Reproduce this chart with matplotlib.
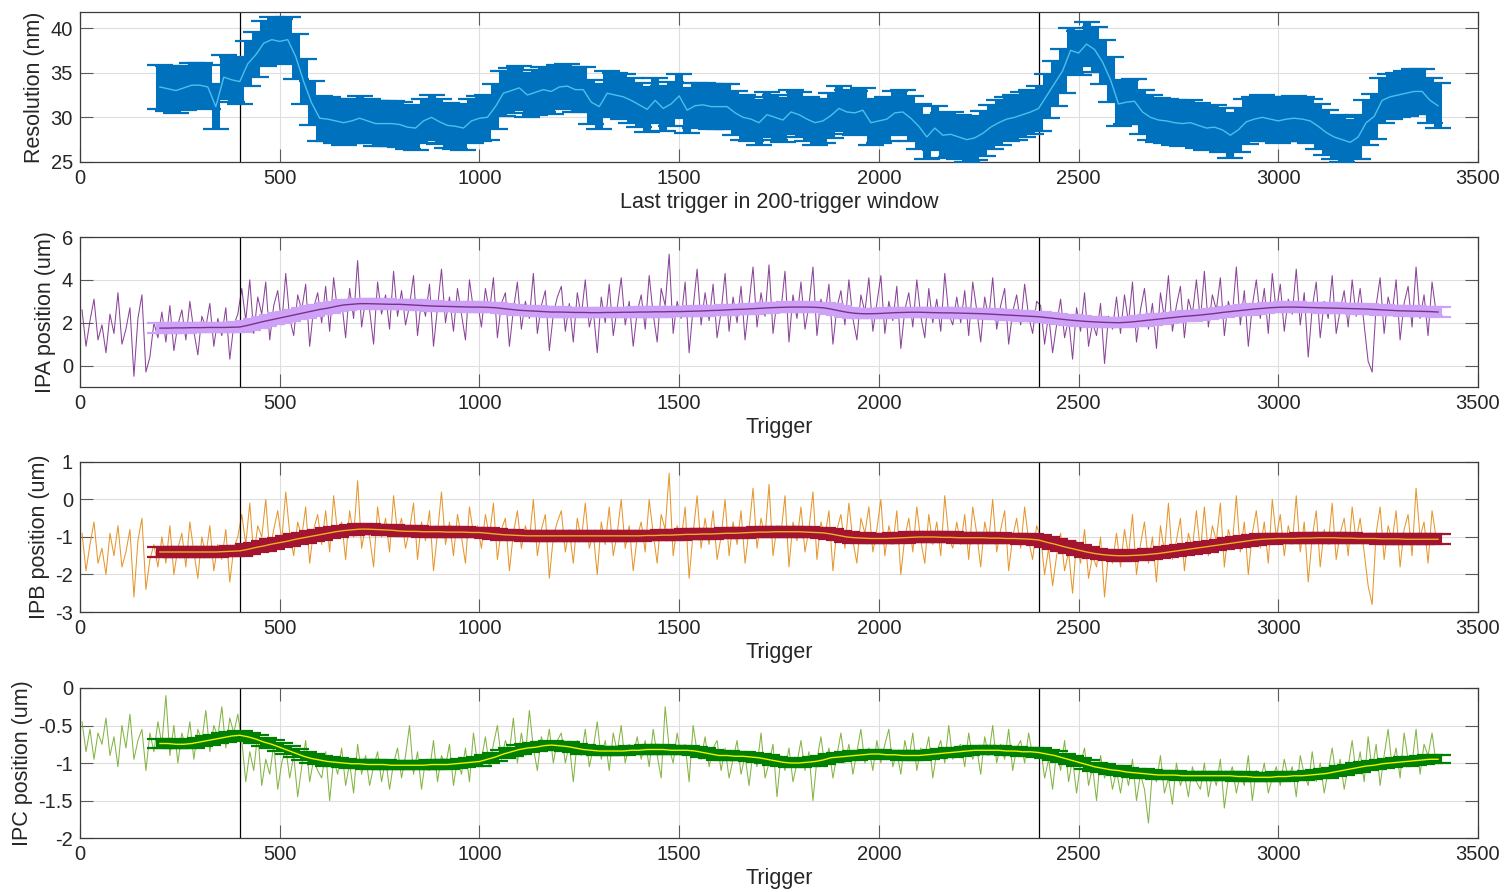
import numpy as np
import matplotlib
matplotlib.use("Agg")
import matplotlib.pyplot as plt

plt.rcParams['font.family'] = ['Liberation Sans', 'DejaVu Sans']

# ---- data ----
# moving-window x positions (last trigger of each 200-trigger window, every 20th)
WIN_START, WIN_STEP = 200, 20
# raw samples shown every 10th trigger
RAW_START, RAW_STEP = 5, 10

RES_MEAN = [
    33.4, 33.2, 33.0, 33.3, 33.6, 33.6, 33.4, 31.2, 34.5, 34.2, 34.0,
    36.0, 37.0, 38.3, 38.7, 38.5, 38.7, 36.8, 34.0, 31.6, 29.9,
    29.8, 29.6, 29.4, 29.6, 29.9, 29.6, 29.3, 29.3, 29.3, 29.2,
    28.9, 28.8, 29.6, 30.0, 29.5, 29.1, 29.0, 28.8, 29.6, 29.9,
    30.0, 31.2, 32.7, 33.0, 33.3, 32.5, 32.8, 33.1, 32.9, 33.4,
    33.5, 33.1, 33.1, 31.7, 31.2, 32.7, 32.5, 32.3, 31.9, 31.4,
    30.9, 31.9, 31.0, 31.5, 32.4, 30.8, 31.3, 31.4, 31.2, 31.2,
    31.2, 30.5, 30.0, 29.8, 29.4, 30.3, 30.0, 29.7, 30.6, 30.3,
    29.8, 29.4, 29.6, 30.2, 31.0, 30.6, 30.5, 30.8, 29.4, 29.6,
    29.8, 30.5, 30.6, 29.9, 29.0, 27.8, 28.8, 28.0, 28.1, 27.8,
    27.5, 27.7, 28.2, 28.9, 29.4, 29.8, 30.0, 30.3, 30.6, 31.0,
    32.4, 33.8, 35.2, 37.5, 37.2, 38.2, 37.6, 36.2, 34.2, 31.5,
    31.7, 31.8, 30.6, 30.0, 29.7, 29.6, 29.4, 29.3, 29.4, 29.1,
    28.8, 28.9, 28.6, 28.0, 28.6, 29.5, 29.8, 30.0, 29.8, 29.6,
    29.8, 29.9, 29.8, 29.6, 29.0, 28.3, 27.8, 27.5, 27.2, 27.8,
    29.4, 30.1, 31.9, 32.3, 32.5, 32.7, 32.9, 32.9, 31.9, 31.3,
]
RES_ERR = 2.5

IPA_RAW = [
    2.6, 0.9, 2.1, 3.1, 1.2, 1.9, 0.6, 2.4, 1.5, 3.4, 1.0, 1.7, 2.7, -0.5, 2.2, 3.3, -0.3, 0.4, 2.0, 1.3,
    2.5, 1.1, 2.8, 0.7, 1.9, 2.6, 1.2, 3.0, 1.6, 0.5, 2.3, 1.8, 2.9, 0.9, 2.2, 1.4, 2.7, 0.3, 1.9, 2.4,
    3.6, 2.1, 4.0, 1.5, 3.2, 2.4, 3.9, 1.2, 2.8, 3.5, 1.9, 4.3, 2.2, 1.4, 3.3, 2.6, 3.8, 0.9, 2.7, 3.4,
    2.0, 3.7, 1.6, 4.1, 2.5, 3.0, 1.3, 3.6, 2.2, 4.9, 1.8, 3.1, 2.6, 1.0, 3.9, 2.4, 3.3, 1.7, 4.4, 2.3,
    3.5, 1.9, 2.8, 4.2, 1.4, 3.1, 2.3, 3.8, 0.9, 2.7, 4.5, 2.0, 3.2, 1.6, 3.6, 2.4, 1.2, 4.0, 2.6, 3.0,
    1.8, 3.6, 2.5, 4.1, 1.3, 2.9, 3.4, 0.9, 2.6, 3.9, 1.7, 3.0, 2.2, 4.3, 1.5, 2.8, 3.5, 0.7, 2.4, 3.2,
    3.7, 1.6, 2.9, 1.1, 3.4, 2.3, 4.0, 1.8, 2.6, 0.6, 3.2, 2.0, 3.8, 1.4, 2.7, 4.1, 1.9, 3.0, 0.9, 2.5,
    3.3, 1.7, 4.2, 2.4, 1.1, 3.6, 2.8, 5.2, 1.5, 3.0, 2.2, 3.9, 0.6, 2.7, 4.5, 1.9, 3.4, 2.1, 3.8, 1.3,
    2.5, 4.3, 1.6, 3.2, 2.0, 3.7, 1.2, 2.9, 4.6, 1.8, 3.4, 2.3, 4.7, 1.5, 3.0, 2.6, 4.4, 1.1, 3.3, 2.2,
    3.9, 1.7, 2.8, 4.6, 1.4, 3.1, 2.4, 3.8, 1.0, 2.7, 3.5, 1.9, 4.0, 2.2, 1.2, 3.3, 2.5, 4.1, 1.6, 2.9,
    4.2, 1.5, 3.0, 2.1, 3.7, 0.8, 2.6, 3.4, 1.8, 4.0, 2.3, 1.3, 3.6, 2.0, 3.1, 1.6, 4.3, 2.4, 1.9, 3.2,
    2.0, 3.5, 1.4, 3.9, 2.6, 1.1, 3.2, 2.2, 4.1, 1.7, 2.8, 3.6, 1.0, 2.5, 3.3, 1.9, 3.8, 2.3, 1.5, 3.0,
    2.8, 1.0, 2.4, 0.6, 1.9, 3.1, 1.3, 2.2, 0.3, 2.7, 1.6, 3.4, 0.9, 2.0, 1.4, 2.9, 0.1, 2.3, 1.7, 3.2,
    1.5, 3.3, 2.0, 3.9, 1.1, 2.6, 3.6, 1.7, 2.9, 0.8, 3.4, 2.2, 4.2, 1.6, 2.8, 3.7, 1.3, 3.1, 2.4, 4.0,
    2.1, 4.4, 1.8, 3.3, 2.6, 4.1, 1.4, 3.0, 2.3, 4.6, 1.9, 3.5, 0.9, 2.8, 4.0, 2.2, 3.6, 1.5, 4.3, 2.5,
    3.8, 1.6, 3.1, 2.4, 4.5, 1.9, 3.4, 0.4, 2.7, 3.9, 1.3, 3.0, 2.2, 4.2, 1.5, 2.6, 3.5, 1.8, 4.0, 2.3,
    3.6, 1.9, 0.2, -0.3, 2.8, 4.1, 1.5, 3.2, 2.4, 4.0, 1.2, 2.9, 3.7, 1.8, 4.6, 2.2, 3.3, 1.4, 3.9, 2.5,
]
IPA_MEAN = [
    1.75, 1.75, 1.76, 1.76, 1.77, 1.77, 1.78, 1.78, 1.78, 1.79, 1.80,
    1.88, 1.97, 2.06, 2.14, 2.22, 2.30, 2.38, 2.46, 2.54, 2.62,
    2.68, 2.76, 2.83, 2.86, 2.89, 2.89, 2.88, 2.87, 2.86, 2.86,
    2.84, 2.82, 2.80, 2.78, 2.77, 2.76, 2.75, 2.74, 2.73, 2.73,
    2.72, 2.70, 2.66, 2.62, 2.58, 2.56, 2.54, 2.52, 2.50, 2.50,
    2.49, 2.48, 2.48, 2.47, 2.47, 2.48, 2.48, 2.49, 2.49, 2.50,
    2.50, 2.51, 2.51, 2.52, 2.52, 2.53, 2.54, 2.55, 2.57, 2.58,
    2.60, 2.62, 2.63, 2.65, 2.67, 2.69, 2.71, 2.72, 2.73, 2.73,
    2.73, 2.72, 2.70, 2.64, 2.56, 2.49, 2.44, 2.42, 2.42, 2.43,
    2.45, 2.47, 2.48, 2.49, 2.49, 2.48, 2.47, 2.46, 2.46, 2.45,
    2.44, 2.43, 2.42, 2.40, 2.38, 2.36, 2.34, 2.32, 2.30, 2.28,
    2.24, 2.20, 2.16, 2.12, 2.09, 2.06, 2.04, 2.02, 2.01, 2.00,
    2.02, 2.05, 2.09, 2.13, 2.17, 2.21, 2.25, 2.29, 2.32, 2.35,
    2.39, 2.43, 2.48, 2.52, 2.56, 2.60, 2.64, 2.67, 2.70, 2.72,
    2.73, 2.73, 2.72, 2.71, 2.70, 2.69, 2.68, 2.67, 2.66, 2.65,
    2.64, 2.62, 2.60, 2.58, 2.56, 2.55, 2.54, 2.53, 2.52, 2.50,
]
IPA_ERR = 0.22

IPB_RAW = [
    -0.9, -1.9, -1.2, -0.6, -1.7, -1.3, -2.0, -0.9, -1.5, -0.7, -1.8, -1.4, -0.8, -2.6, -1.1, -0.5, -2.4, -1.6, -1.2, -1.8,
    -1.0, -1.7, -0.7, -2.0, -1.3, -0.9, -1.8, -0.6, -1.4, -2.1, -1.0, -1.5, -0.7, -1.9, -1.2, -1.6, -0.8, -2.2, -1.3, -1.0,
    -0.4, -1.2, -0.1, -1.5, -0.7, -1.0, 0.0, -1.4, -0.8, -0.3, -1.1, 0.2, -0.9, -1.5, -0.6, -1.0, -0.2, -1.7, -0.8, -0.4,
    -1.2, -0.3, -1.4, 0.1, -0.9, -0.6, -1.6, -0.3, -1.0, 0.5, -1.3, -0.7, -1.0, -1.8, -0.2, -1.0, -0.5, -1.4, 0.1, -0.9,
    -0.5, -1.3, -0.8, -0.1, -1.6, -0.6, -1.1, -0.3, -1.9, -0.9, 0.2, -1.2, -0.6, -1.5, -0.4, -1.0, -1.7, -0.2, -0.9, -0.7,
    -1.3, -0.4, -1.0, -0.1, -1.6, -0.8, -0.5, -1.9, -0.9, -0.3, -1.3, -0.7, -1.1, 0.0, -1.5, -0.8, -0.4, -2.1, -1.0, -0.6,
    -0.3, -1.4, -0.8, -1.7, -0.5, -1.1, -0.1, -1.3, -0.9, -2.0, -0.6, -1.2, -0.2, -1.5, -0.9, 0.0, -1.3, -0.7, -1.9, -1.0,
    -0.6, -1.4, 0.0, -0.9, -1.7, -0.4, -0.8, 0.7, -1.5, -0.7, -1.1, -0.2, -2.1, -0.9, 0.1, -1.3, -0.5, -1.2, -0.3, -1.6,
    -1.0, 0.0, -1.5, -0.6, -1.2, -0.3, -1.7, -0.8, 0.3, -1.3, -0.5, -1.0, 0.4, -1.5, -0.7, -0.9, 0.1, -1.8, -0.6, -1.1,
    -0.2, -1.4, -0.8, 0.2, -1.6, -0.6, -1.0, -0.3, -1.9, -0.8, -0.4, -1.3, -0.1, -1.1, -1.7, -0.5, -0.9, -0.2, -1.4, -0.8,
    0.0, -1.5, -0.7, -1.2, -0.3, -2.0, -1.0, -0.5, -1.4, -0.2, -1.1, -1.7, -0.4, -1.2, -0.6, -1.5, 0.1, -1.0, -1.3, -0.6,
    -1.2, -0.4, -1.6, -0.2, -0.9, -1.8, -0.6, -1.1, 0.0, -1.4, -0.8, -0.3, -1.9, -1.0, -0.5, -1.3, -0.2, -1.1, -1.6, -0.7,
    -1.0, -2.0, -1.3, -2.3, -1.5, -0.9, -1.9, -1.4, -2.5, -1.1, -1.7, -0.8, -2.1, -1.5, -1.8, -1.0, -2.6, -1.4, -1.7, -0.9,
    -1.8, -0.8, -1.5, -0.4, -2.0, -1.2, -0.6, -1.7, -1.0, -2.2, -0.7, -1.4, -0.1, -1.6, -1.1, -0.5, -1.9, -0.9, -1.3, -0.3,
    -1.4, -0.2, -1.5, -0.7, -1.1, -0.1, -1.8, -0.8, -1.2, 0.1, -1.4, -0.6, -2.0, -0.9, -0.3, -1.3, -0.6, -1.7, 0.0, -1.0,
    -0.4, -1.5, -0.7, -1.2, 0.1, -1.4, -0.6, -2.2, -1.0, -0.3, -1.8, -0.8, -1.2, -0.1, -1.6, -0.9, -0.5, -1.5, -0.2, -1.1,
    -0.5, -1.4, -2.3, -2.8, -0.9, -0.2, -1.6, -0.7, -1.1, -0.3, -1.8, -0.8, -0.4, -1.5, 0.3, -1.0, -0.6, -1.7, -0.3, -1.0,
]
IPB_MEAN = [
    -1.40, -1.40, -1.40, -1.40, -1.40, -1.40, -1.40, -1.40, -1.39, -1.38, -1.37,
    -1.33, -1.28, -1.24, -1.19, -1.15, -1.11, -1.06, -1.02, -0.98, -0.94,
    -0.90, -0.86, -0.83, -0.81, -0.79, -0.79, -0.80, -0.81, -0.82, -0.84,
    -0.85, -0.85, -0.86, -0.86, -0.86, -0.87, -0.87, -0.87, -0.88, -0.88,
    -0.90, -0.92, -0.94, -0.95, -0.96, -0.97, -0.97, -0.97, -0.97, -0.97,
    -0.97, -0.97, -0.97, -0.97, -0.97, -0.97, -0.97, -0.97, -0.97, -0.97,
    -0.96, -0.96, -0.95, -0.95, -0.94, -0.93, -0.93, -0.92, -0.92, -0.91,
    -0.90, -0.90, -0.89, -0.88, -0.87, -0.87, -0.86, -0.86, -0.86, -0.86,
    -0.87, -0.88, -0.89, -0.92, -0.96, -1.00, -1.02, -1.03, -1.04, -1.04,
    -1.04, -1.03, -1.02, -1.01, -1.00, -1.00, -1.00, -1.01, -1.01, -1.02,
    -1.02, -1.02, -1.02, -1.03, -1.03, -1.04, -1.04, -1.05, -1.06, -1.08,
    -1.14, -1.19, -1.25, -1.30, -1.35, -1.40, -1.44, -1.47, -1.49, -1.50,
    -1.50, -1.49, -1.48, -1.46, -1.44, -1.41, -1.38, -1.35, -1.32, -1.29,
    -1.26, -1.23, -1.20, -1.17, -1.14, -1.11, -1.08, -1.06, -1.05, -1.04,
    -1.04, -1.04, -1.03, -1.03, -1.02, -1.02, -1.02, -1.03, -1.03, -1.04,
    -1.04, -1.04, -1.05, -1.05, -1.05, -1.06, -1.06, -1.06, -1.06, -1.06,
]
IPB_ERR = 0.13

IPC_RAW = [
    -0.45, -0.85, -0.55, -0.95, -0.6, -0.75, -0.4, -0.9, -0.65, -1.05, -0.5, -0.8, -0.35, -0.95, -0.7, -0.55, -1.1, -0.6, -0.85, -0.45,
    -0.75, -0.1, -0.9, -0.5, -1.0, -0.6, -0.8, -0.45, -0.95, -0.55, -0.7, -0.3, -0.85, -0.5, -0.65, -0.25, -0.8, -0.4, -0.6, -0.35,
    -0.7, -1.25, -0.85, -1.1, -0.6, -1.3, -0.95, -1.15, -0.75, -1.35, -1.0, -0.8, -1.2, -0.9, -1.45, -1.05, -0.7, -1.25, -0.95, -1.1,
    -1.2, -0.85, -1.5, -0.95, -1.15, -0.8, -1.3, -1.0, -1.4, -0.75, -1.15, -0.9, -1.3, -1.05, -0.85, -1.25, -0.95, -1.35, -1.0, -0.8,
    -1.2, -0.9, -0.5, -1.15, -0.85, -1.35, -0.95, -1.1, -0.7, -1.25, -0.9, -1.05, -0.75, -1.3, -0.95, -1.15, -0.8, -1.25, -0.6, -1.0,
    -0.95, -0.65, -1.05, -0.75, -0.5, -0.95, -0.7, -0.85, -0.4, -1.0, -0.6, -0.9, -0.3, -0.8, -1.1, -0.65, -0.85, -0.55, -1.0, -0.7,
    -0.6, -1.0, -0.75, -1.25, -0.7, -0.9, -0.55, -1.05, -0.8, -0.45, -0.95, -0.7, -1.1, -0.6, -0.85, -0.5, -1.0, -0.75, -0.9, -0.65,
    -0.95, -0.7, -1.05, -0.55, -0.9, -1.2, -0.25, -0.8, -1.0, -0.6, -0.9, -0.75, -1.25, -0.5, -0.85, -0.95, -0.65, -1.05, -0.8, -0.7,
    -1.1, -0.8, -1.2, -0.95, -0.7, -1.15, -0.9, -1.3, -0.85, -1.05, -0.6, -1.2, -1.0, -0.75, -1.45, -0.9, -1.1, -0.8, -1.25, -1.0,
    -0.7, -1.1, -0.85, -1.5, -0.95, -0.65, -1.05, -0.8, -1.2, -0.9, -0.6, -1.0, -0.75, -1.15, -0.85, -0.55, -1.0, -0.8, -1.1, -0.7,
    -1.0, -0.75, -0.55, -1.05, -0.85, -1.15, -0.7, -0.95, -0.6, -1.1, -0.8, -0.9, -0.65, -1.2, -0.85, -0.7, -1.0, -0.5, -0.95, -0.8,
    -0.75, -1.05, -0.6, -0.95, -0.8, -1.15, -0.65, -0.9, -0.5, -1.0, -0.75, -0.95, -0.55, -1.1, -0.8, -0.7, -1.0, -0.6, -0.9, -0.85,
    -0.8, -1.2, -0.95, -1.35, -0.85, -1.1, -0.7, -1.25, -0.95, -1.4, -1.0, -0.8, -1.3, -1.05, -1.5, -0.9, -1.2, -1.0, -1.35, -1.1,
    -1.4, -1.05, -1.3, -0.95, -1.5, -1.15, -1.35, -1.8, -1.1, -1.25, -0.9, -1.4, -1.2, -1.55, -1.0, -1.3, -1.15, -1.45, -1.05, -1.25,
    -1.35, -1.0, -1.45, -1.15, -1.3, -0.95, -1.6, -1.2, -1.05, -1.4, -1.15, -1.3, -0.9, -1.5, -1.1, -1.25, -1.0, -1.4, -1.2, -1.05,
    -1.3, -0.95, -1.2, -1.05, -1.45, -0.9, -1.15, -1.3, -0.85, -1.25, -1.0, -1.4, -1.1, -0.8, -1.2, -0.95, -1.35, -1.05, -0.7, -1.15,
    -0.85, -1.25, -0.65, -1.1, -0.75, -1.3, -0.9, -0.55, -1.05, -0.8, -1.2, -0.6, -0.95, -1.0, -0.55, -1.15, -0.75, -0.9, -0.6, -1.0,
]
IPC_MEAN = [
    -0.74, -0.74, -0.75, -0.75, -0.74, -0.72, -0.70, -0.68, -0.66, -0.64, -0.63,
    -0.65, -0.68, -0.72, -0.75, -0.79, -0.83, -0.87, -0.91, -0.94, -0.96,
    -0.98, -0.99, -1.00, -1.01, -1.01, -1.02, -1.02, -1.02, -1.03, -1.03,
    -1.03, -1.03, -1.03, -1.02, -1.02, -1.02, -1.01, -1.00, -0.99, -0.98,
    -0.95, -0.92, -0.88, -0.85, -0.82, -0.80, -0.79, -0.77, -0.76, -0.77,
    -0.78, -0.80, -0.82, -0.83, -0.84, -0.84, -0.84, -0.84, -0.83, -0.83,
    -0.82, -0.82, -0.82, -0.83, -0.83, -0.83, -0.84, -0.86, -0.88, -0.90,
    -0.90, -0.91, -0.91, -0.92, -0.93, -0.95, -0.97, -0.99, -1.00, -1.00,
    -0.99, -0.98, -0.96, -0.93, -0.92, -0.91, -0.90, -0.89, -0.88, -0.88,
    -0.89, -0.89, -0.90, -0.90, -0.90, -0.89, -0.88, -0.87, -0.86, -0.85,
    -0.84, -0.83, -0.83, -0.83, -0.83, -0.84, -0.84, -0.85, -0.85, -0.86,
    -0.88, -0.90, -0.93, -0.96, -0.99, -1.02, -1.05, -1.07, -1.09, -1.10,
    -1.12, -1.13, -1.14, -1.15, -1.16, -1.16, -1.16, -1.17, -1.17, -1.17,
    -1.17, -1.17, -1.17, -1.17, -1.18, -1.18, -1.19, -1.19, -1.19, -1.18,
    -1.18, -1.17, -1.17, -1.16, -1.15, -1.14, -1.12, -1.10, -1.08, -1.06,
    -1.04, -1.03, -1.01, -1.00, -0.99, -0.98, -0.97, -0.96, -0.95, -0.95,
]
IPC_ERR = 0.055

MARK_TRIGGERS = [400, 2400]
X_TICKS = [0, 500, 1000, 1500, 2000, 2500, 3000, 3500]

TEXT = '#262626'
CAP = 9.5         # half cap length in points (~13 px each side)
ELW = 5.8         # vertical bar width so neighbouring windows touch


def style_axes(ax, ylim, yticks, xlabel, ylabel):
    ax.set_xlim(0, 3500)
    ax.set_ylim(*ylim)
    ax.set_xticks(X_TICKS)
    ax.set_yticks(yticks)
    ax.set_yticklabels([f'{t:g}' for t in yticks])
    ax.grid(True, color='#dedede', linewidth=0.8)
    ax.set_axisbelow(True)
    ax.tick_params(direction='in', length=9.5, width=0.8, color='#5a5a5a',
                   labelcolor=TEXT, labelsize=14.5, top=True, right=True, pad=5)
    for s in ax.spines.values():
        s.set_color('#3c3c3c')
        s.set_linewidth(0.9)
    ax.set_xlabel(xlabel, fontsize=15.5, color=TEXT, labelpad=3)
    ax.set_ylabel(ylabel, fontsize=15.5, color=TEXT, labelpad=4)
    for t in MARK_TRIGGERS:
        ax.axvline(t, color='black', linewidth=0.9, zorder=2.5)


def draw_band(ax, mean, err, band_color, line_color):
    xw = WIN_START + WIN_STEP * np.arange(len(mean))
    ax.errorbar(xw, mean, yerr=err, fmt='none', ecolor=band_color,
                elinewidth=ELW, capsize=CAP, capthick=1.6, zorder=3)
    ax.plot(xw, mean, color=line_color, linewidth=1.0, zorder=4)


fig = plt.figure(figsize=(15.04, 8.92), dpi=100)
left, width, height = 0.0532, 0.9295, 0.1682
bottoms = [0.8184, 0.5661, 0.3139, 0.0605]
axes = [fig.add_axes([left, b, width, height]) for b in bottoms]

# Resolution panel
ax = axes[0]
draw_band(ax, RES_MEAN, RES_ERR, '#0072BD', '#4DBEEE')
style_axes(ax, (25, 41.8), [25, 30, 35, 40],
           'Last trigger in 200-trigger window', 'Resolution (nm)')

panels = [
    (axes[1], IPA_RAW, IPA_MEAN, IPA_ERR, '#7E2F8E', '#CDA2F7', '#7E2F8E',
     (-1, 6), [0, 2, 4, 6], 'IPA position (um)'),
    (axes[2], IPB_RAW, IPB_MEAN, IPB_ERR, '#E38B17', '#A2142F', '#EDB120',
     (-3, 1), [-3, -2, -1, 0, 1], 'IPB position (um)'),
    (axes[3], IPC_RAW, IPC_MEAN, IPC_ERR, '#77AC30', '#008000', '#F2F200',
     (-2, 0), [-2, -1.5, -1, -0.5, 0], 'IPC position (um)'),
]
for ax, raw, mean, err, raw_c, band_c, line_c, ylim, yt, ylab in panels:
    xr = RAW_START + RAW_STEP * np.arange(len(raw))
    ax.plot(xr, raw, color=raw_c, linewidth=0.75, alpha=0.9, zorder=2)
    draw_band(ax, mean, err, band_c, line_c)
    style_axes(ax, ylim, yt, 'Trigger', ylab)

fig.savefig('out.png', dpi=100, facecolor='white')
